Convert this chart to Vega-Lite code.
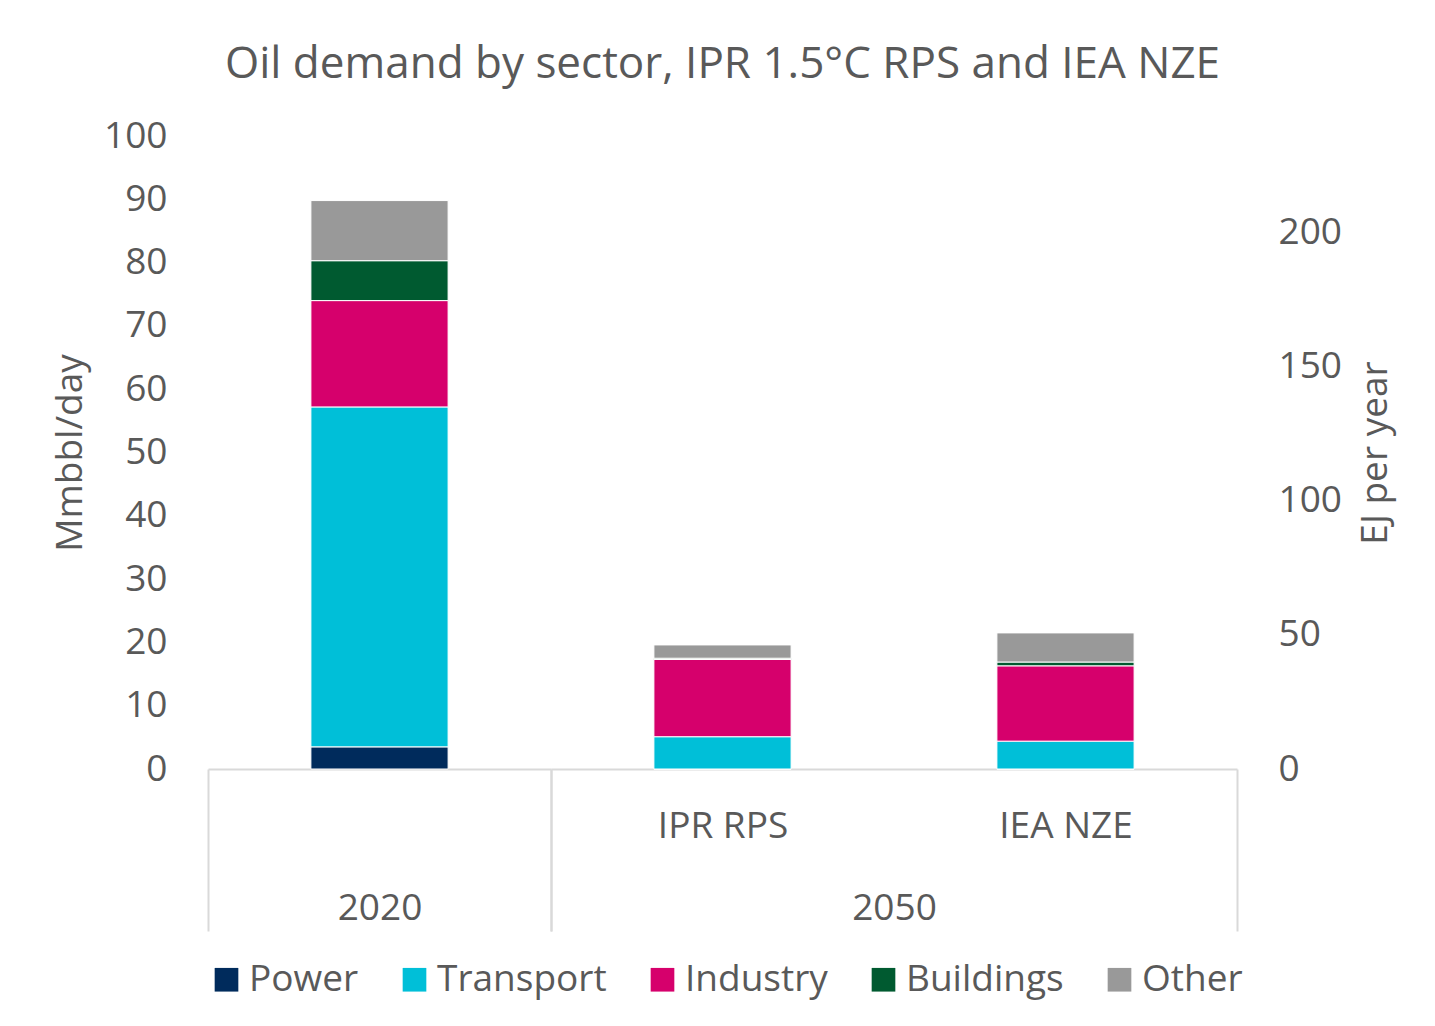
{
  "$schema": "https://vega.github.io/schema/vega-lite/v6.json",
  "background": "white",
  "padding": {"left": 51, "top": 43, "right": 5, "bottom": 5},
  "bounds": "flush",
  "spacing": 0,
  "title": {"text": "Oil demand by sector, IPR 1.5°C RPS and IEA NZE", "fontSize": 44, "fontWeight": "normal", "color": "#595959", "anchor": "middle", "offset": 30},
  "datasets": {
    "oil": [
      {"year": "2020", "scenario": "2020", "sector": "Power", "n": 1, "value": 3.5},
      {"year": "2020", "scenario": "2020", "sector": "Transport", "n": 2, "value": 53.7},
      {"year": "2020", "scenario": "2020", "sector": "Industry", "n": 3, "value": 16.8},
      {"year": "2020", "scenario": "2020", "sector": "Buildings", "n": 4, "value": 6.3},
      {"year": "2020", "scenario": "2020", "sector": "Other", "n": 5, "value": 9.5},
      {"year": "2050", "scenario": "IPR RPS", "sector": "Power", "n": 1, "value": 0},
      {"year": "2050", "scenario": "IPR RPS", "sector": "Transport", "n": 2, "value": 5.1},
      {"year": "2050", "scenario": "IPR RPS", "sector": "Industry", "n": 3, "value": 12.2},
      {"year": "2050", "scenario": "IPR RPS", "sector": "Buildings", "n": 4, "value": 0.2},
      {"year": "2050", "scenario": "IPR RPS", "sector": "Other", "n": 5, "value": 2.1},
      {"year": "2050", "scenario": "IEA NZE", "sector": "Power", "n": 1, "value": 0},
      {"year": "2050", "scenario": "IEA NZE", "sector": "Transport", "n": 2, "value": 4.4},
      {"year": "2050", "scenario": "IEA NZE", "sector": "Industry", "n": 3, "value": 11.9},
      {"year": "2050", "scenario": "IEA NZE", "sector": "Buildings", "n": 4, "value": 0.6},
      {"year": "2050", "scenario": "IEA NZE", "sector": "Other", "n": 5, "value": 4.6}
    ],
    "ej": [{"ej": 0}]
  },
  "hconcat": [
    {
      "width": 343,
      "height": 633,
      "data": {"name": "oil"},
      "transform": [{"filter": {"field": "year", "equal": "2020"}}],
      "mark": {"type": "bar", "width": {"band": 0.4}, "stroke": "white", "strokeWidth": 1},
      "encoding": {
        "x": {
          "field": "scenario", "type": "nominal",
          "scale": {"domain": ["2020"], "paddingInner": 0, "paddingOuter": 0},
          "axis": {"labels": false, "title": "2020", "titlePadding": -42, "tickBand": "extent", "tickSize": 162}
        },
        "y": {
          "field": "value", "type": "quantitative", "stack": "zero",
          "scale": {"domain": [0, 100]},
          "axis": {"title": "Mmbbl/day", "values": [0, 10, 20, 30, 40, 50, 60, 70, 80, 90, 100], "ticks": false, "domain": false, "grid": false, "labelPadding": 41, "titlePadding": 14}
        },
        "color": {
          "field": "sector", "type": "nominal",
          "scale": {"domain": ["Power", "Transport", "Industry", "Buildings", "Other"], "range": ["#002b5c", "#00bfd8", "#d6006c", "#005a30", "#999999"]},
          "legend": {"title": null}
        },
        "order": {"field": "n", "type": "quantitative"}
      }
    },
    {
      "width": 686,
      "height": 633,
      "layer": [
        {
          "data": {"name": "oil"},
          "transform": [{"filter": {"field": "year", "equal": "2050"}}],
          "mark": {"type": "bar", "width": {"band": 0.4}, "stroke": "white", "strokeWidth": 1},
          "encoding": {
            "x": {
              "field": "scenario", "type": "nominal",
              "scale": {"domain": ["IPR RPS", "IEA NZE"], "paddingInner": 0, "paddingOuter": 0},
              "axis": {"title": "2050", "titlePadding": -42, "labelPadding": -123, "labelAngle": 0, "tickBand": "extent", "tickSize": 162,
                "tickColor": {"condition": {"test": "datum.value === 'IPR RPS'", "value": "transparent"}, "value": "#d9d9d9"}}
            },
            "y": {
              "field": "value", "type": "quantitative", "stack": "zero",
              "scale": {"domain": [0, 100]},
              "axis": null
            },
            "color": {"field": "sector", "type": "nominal", "legend": {"title": null}},
            "order": {"field": "n", "type": "quantitative"}
          }
        },
        {
          "data": {"name": "ej"},
          "mark": {"type": "point", "opacity": 0},
          "encoding": {
            "y": {
              "field": "ej", "type": "quantitative",
              "scale": {"domain": [0, 236]},
              "axis": {"orient": "right", "title": "EJ per year", "titleAngle": 270, "titleBaseline": "top", "values": [0, 50, 100, 150, 200], "ticks": false, "domain": false, "grid": false, "labelPadding": 41, "titlePadding": 16}
            }
          }
        }
      ],
      "resolve": {"scale": {"y": "independent"}}
    }
  ],
  "config": {
    "font": "Open Sans",
    "view": {"stroke": null},
    "axis": {
      "labelFontSize": 37, "labelColor": "#595959", "labelFont": "Open Sans",
      "titleFontSize": 37, "titleColor": "#595959", "titleFontWeight": "normal", "titleFont": "Open Sans",
      "domainColor": "#d9d9d9", "domainWidth": 2, "tickColor": "#d9d9d9", "tickWidth": 2, "grid": false
    },
    "legend": {
      "orient": "bottom", "direction": "horizontal", "symbolType": "square", "symbolSize": 560, "symbolStrokeWidth": 0,
      "labelFontSize": 37, "labelColor": "#595959", "labelFont": "Open Sans", "labelOffset": 4, "columnPadding": 37, "offset": 29, "labelLimit": 400
    }
  }
}
